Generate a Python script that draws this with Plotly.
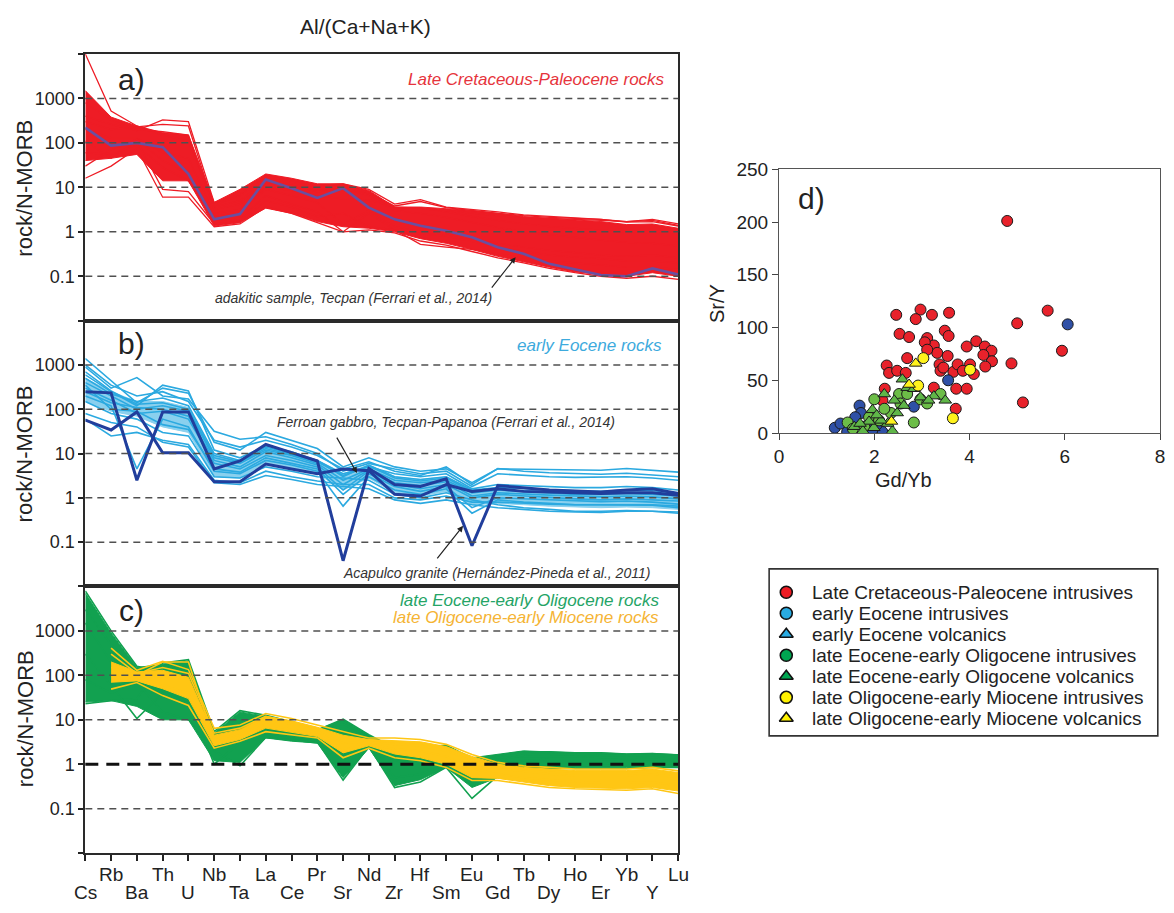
import plotly.graph_objects as go

W, H = 1174, 913

ELEMENTS = ["Cs", "Rb", "Ba", "Th", "U", "Nb", "Ta", "La", "Ce", "Pr", "Sr", "Nd",
            "Zr", "Hf", "Sm", "Eu", "Gd", "Tb", "Dy", "Ho", "Er", "Yb", "Y", "Lu"]

# ---- panel a: Late Cretaceous-Paleocene rocks (rock / N-MORB) ----
a_band_hi = [1500, 380, 240, 170, 150, 4.6, 9.0, 20, 16, 12, 12, 8.5, 3.6, 3.6, 3.3, 3.0, 2.6, 2.2, 2.0, 1.85, 1.7, 1.45, 1.5, 1.2]
a_band_lo = [40, 45, 55, 14, 14, 1.35, 1.6, 3.4, 2.6, 1.7, 1.3, 1.2, 1.0, 0.7, 0.55, 0.4, 0.28, 0.21, 0.16, 0.125, 0.11, 0.1, 0.12, 0.1]
a_samples = [
    [10000, 520, 240, 150, 110, 4.0, 6.5, 16, 13, 10, 11, 7.5, 3.8, 4.8, 3.5, 3.0, 2.6, 2.3, 2.1, 2.0, 1.9, 1.7, 1.8, 1.4],
    [400, 260, 190, 330, 300, 4.5, 7.0, 19, 15, 11, 12, 9, 4.2, 5.3, 3.6, 3.2, 2.8, 2.4, 2.2, 2.0, 1.9, 1.65, 1.7, 1.35],
    [300, 200, 230, 260, 240, 3.6, 5.0, 14, 11, 8, 9, 7, 3.5, 3.4, 2.8, 2.2, 1.8, 1.5, 1.3, 1.2, 1.1, 1.0, 1.05, 0.95],
    [16, 30, 75, 6, 6, 1.3, 1.5, 3.6, 2.6, 1.6, 1.0, 1.1, 0.95, 0.62, 0.5, 0.36, 0.26, 0.2, 0.15, 0.12, 0.1, 0.09, 0.1, 0.085],
    [60, 55, 90, 28, 14, 1.8, 2.0, 6.5, 4.2, 2.8, 1.0, 2.6, 1.1, 0.9, 0.8, 0.6, 0.45, 0.36, 0.3, 0.27, 0.25, 0.22, 0.22, 0.2],
    [110, 45, 110, 9, 8, 1.5, 1.7, 5.0, 3.6, 2.2, 2.6, 1.3, 1.1, 0.52, 0.45, 0.4, 0.32, 0.26, 0.22, 0.2, 0.18, 0.16, 0.16, 0.14],
    [200, 130, 130, 60, 45, 2.6, 3.2, 10, 8.5, 6.5, 5.5, 5.2, 3.6, 3.4, 3.0, 2.6, 2.3, 2.1, 2.0, 1.95, 1.8, 1.7, 1.9, 1.5],
    [800, 320, 200, 180, 150, 3.2, 4.2, 13, 11, 8.5, 9.5, 6.5, 3.0, 2.6, 2.1, 1.6, 1.25, 1.0, 0.85, 0.75, 0.65, 0.58, 0.55, 0.48],
    [30, 70, 120, 40, 20, 2.2, 2.8, 9, 6.5, 4.5, 1.5, 3.0, 1.3, 1.0, 0.9, 0.7, 0.55, 0.45, 0.38, 0.34, 0.3, 0.28, 0.3, 0.26],
]
a_adakite = [220, 87, 100, 80, 20, 1.9, 2.5, 15, 9.5, 5.8, 9.6, 3.5, 1.9, 1.36, 1.05, 0.75, 0.45, 0.32, 0.19, 0.14, 0.107, 0.1, 0.15, 0.11]

# ---- panel b: early Eocene rocks ----
b_band_hi = [500, 250, 150, 150, 110, 9, 7, 13, 10, 7, 3.5, 5.5, 3.0, 2.6, 3.0, 1.5, 1.5, 1.45, 1.4, 1.35, 1.35, 1.4, 1.35, 1.25]
b_band_lo = [150, 90, 70, 40, 30, 3, 2.8, 6, 4.5, 3.5, 1.5, 2.8, 1.3, 1.1, 1.4, 0.7, 0.75, 0.7, 0.65, 0.62, 0.6, 0.62, 0.6, 0.55]
b_samples = [
    [1400, 450, 140, 300, 230, 18, 12, 30, 20, 13, 5, 8, 5, 4, 4.5, 2.2, 4.5, 4.4, 4.3, 4.2, 4.2, 4.6, 4.2, 3.8],
    [900, 300, 520, 200, 170, 32, 21, 24, 16, 10, 4, 6, 4.5, 3.5, 4.0, 1.8, 3.5, 3.2, 3.0, 2.9, 2.9, 3.0, 2.8, 2.5],
    [600, 250, 120, 350, 260, 12, 8, 15, 11, 7, 3.5, 5, 3.5, 3.0, 3.5, 1.6, 2.0, 1.9, 1.8, 1.7, 1.7, 1.8, 1.7, 1.5],
    [400, 200, 100, 120, 90, 8, 6, 12, 9, 6, 2.5, 4.5, 2.5, 2.2, 2.5, 1.3, 1.5, 1.4, 1.3, 1.2, 1.2, 1.25, 1.2, 1.1],
    [300, 160, 80, 90, 60, 6, 4.5, 9, 7, 5, 1.5, 4, 2.0, 1.6, 2.0, 1.0, 1.2, 1.1, 1.0, 0.95, 0.9, 0.95, 0.9, 0.85],
    [200, 120, 4.5, 60, 40, 4, 3.5, 7, 5.5, 4, 0.65, 3, 1.5, 1.2, 1.6, 0.45, 0.9, 0.8, 0.75, 0.7, 0.7, 0.7, 0.68, 0.6],
    [150, 80, 60, 30, 25, 3, 2.8, 5, 4, 3, 2.8, 2.5, 1.2, 1.0, 1.3, 0.9, 0.7, 0.6, 0.55, 0.5, 0.5, 0.52, 0.5, 0.45],
    [80, 50, 40, 18, 14, 2.2, 2.0, 3.2, 2.6, 2.0, 1.8, 1.6, 0.9, 0.75, 0.9, 0.7, 0.6, 0.55, 0.5, 0.48, 0.47, 0.5, 0.5, 0.48],
    [60, 25, 30, 20, 16, 2.5, 2.2, 4, 3, 2.4, 2.0, 2.0, 1.0, 0.9, 1.1, 0.8, 0.8, 0.75, 0.72, 0.7, 0.7, 0.72, 0.7, 0.65],
    [1000, 350, 200, 250, 150, 20, 14, 20, 14, 9, 4.5, 6.5, 4, 3.2, 5, 2.0, 4.6, 4.0, 3.7, 3.5, 3.4, 3.6, 3.3, 3.0],
    [500, 220, 150, 180, 120, 10, 7, 14, 10, 7, 3.0, 5.5, 3.0, 2.6, 3.0, 1.5, 1.7, 1.6, 1.5, 1.45, 1.4, 1.5, 1.45, 1.3],
    [250, 140, 110, 100, 70, 7, 5, 11, 8, 5.5, 2.0, 4.2, 2.2, 1.9, 2.3, 1.1, 1.3, 1.2, 1.15, 1.1, 1.05, 1.1, 1.05, 0.95],
    [350, 100, 90, 45, 35, 4.5, 3.8, 8, 6, 4.5, 1.2, 3.5, 1.8, 1.4, 1.8, 0.6, 1.0, 0.95, 0.9, 0.85, 0.82, 0.85, 0.8, 0.72],
    [700, 260, 130, 140, 100, 9, 6.5, 13, 9.5, 6.5, 3.2, 5.2, 2.8, 2.4, 2.8, 1.4, 1.5, 1.45, 1.35, 1.3, 1.3, 1.35, 1.3, 1.2],
]
b_acapulco = [250, 235, 2.5, 87, 87, 4.5, 6.8, 16, 10.5, 6.8, 0.038, 4.6, 2.0, 1.8, 2.7, 0.083, 1.9, 1.7, 1.5, 1.43, 1.36, 1.5, 1.6, 1.25]
b_gabbro = [57, 34, 87, 10.4, 10.4, 2.3, 2.3, 5.8, 4.5, 3.5, 4.5, 4.1, 1.2, 1.1, 2.0, 1.4, 1.6, 1.4, 1.35, 1.3, 1.25, 1.3, 1.3, 1.15]

# ---- panel c: late Eocene-early Oligocene (green) and late Oligocene-early Miocene (yellow) ----
g_band_hi = [7000, 900, 150, 180, 210, 5.0, 15, 12, 9, 6, 10, 4.5, 2.3, 2.5, 2.7, 1.4, 1.7, 2.0, 1.9, 1.8, 1.8, 1.7, 1.75, 1.65]
g_band_lo = [25, 27, 20, 10, 10, 1.2, 1.1, 3.9, 3.3, 3.0, 0.5, 2.3, 0.33, 0.45, 0.85, 0.3, 0.5, 0.65, 0.8, 0.85, 0.85, 0.85, 0.85, 0.9]
g_samples = [
    [7900, 1000, 160, 120, 100, 4, 8, 10, 8, 5.5, 8, 4.2, 2.0, 2.4, 2.5, 1.3, 1.6, 1.9, 1.9, 1.8, 1.8, 1.7, 1.75, 1.6],
    [23, 27, 30, 190, 225, 5.4, 16, 12.7, 9, 5.9, 10.3, 4.6, 2.3, 2.0, 2.2, 1.2, 1.4, 1.5, 1.5, 1.45, 1.4, 1.4, 1.5, 1.4],
    [300, 60, 10.7, 40, 30, 1.0, 3, 5, 4, 3.2, 0.44, 2.5, 0.3, 0.4, 0.85, 0.17, 0.55, 0.7, 0.8, 0.8, 0.8, 0.8, 0.85, 0.85],
    [1500, 200, 100, 60, 50, 2, 0.92, 4, 3.5, 3.0, 1.5, 2.8, 0.5, 0.6, 1.0, 0.6, 0.8, 0.9, 0.95, 0.95, 0.95, 0.9, 0.95, 0.92],
    [80, 40, 70, 15, 10, 2.5, 5, 8, 6, 4, 5, 3.5, 1.2, 1.0, 1.8, 0.8, 1.0, 1.2, 1.3, 1.3, 1.3, 1.25, 1.3, 1.2],
    [3000, 500, 130, 100, 180, 3.5, 12, 11, 8, 5, 9, 4, 1.8, 1.6, 2.4, 1.0, 1.2, 1.6, 1.7, 1.65, 1.6, 1.55, 1.6, 1.5],
]
y_band_hi = [None, 200, 120, 130, 90, 4.5, 6, 12, 9.5, 6.8, 4.5, 3.6, 3.4, 3.2, 2.5, 1.5, 1.0, 0.85, 0.78, 0.72, 0.72, 0.72, 0.78, 0.65]
y_band_lo = [None, 70, 75, 50, 30, 2.6, 3.6, 6.5, 5.2, 4.2, 1.8, 2.6, 1.7, 1.4, 1.0, 0.5, 0.48, 0.4, 0.33, 0.3, 0.29, 0.28, 0.3, 0.25]
y_samples = [
    [None, 410, 130, 207, 135, 6.4, 7.6, 13.8, 10.7, 7.6, 5.4, 3.9, 3.9, 3.6, 2.8, 1.66, 1.1, 0.92, 0.85, 0.78, 0.78, 0.78, 0.85, 0.71],
    [None, 49, 69, 35, 21, 2.3, 3.3, 5.4, 4.6, 3.9, 1.4, 2.3, 1.4, 1.2, 0.85, 0.43, 0.43, 0.36, 0.3, 0.28, 0.27, 0.26, 0.28, 0.22],
    [None, 150, 100, 200, 200, 3.5, 5, 10, 8, 5.5, 3, 3.2, 2.8, 2.6, 2.0, 1.2, 0.8, 0.7, 0.6, 0.55, 0.55, 0.55, 0.6, 0.5],
    [None, 100, 90, 60, 40, 3, 4.2, 8, 6, 4.8, 2.2, 2.8, 2.2, 2.0, 1.5, 0.8, 0.6, 0.5, 0.45, 0.4, 0.38, 0.38, 0.4, 0.33],
    [None, 300, 110, 150, 110, 5, 6.5, 12, 9, 6.5, 4, 3.5, 3.2, 3.0, 2.3, 1.3, 0.95, 0.8, 0.72, 0.65, 0.65, 0.65, 0.72, 0.6],
]

# ---- panel d: Sr/Y vs Gd/Yb ----
lkp_gdyb = [4.79, 5.64, 5.0, 5.94, 4.88, 5.12, 2.46, 2.97, 2.87, 3.21, 3.57, 2.53, 2.73, 3.48, 3.56, 3.11,
            3.25, 3.06, 3.94, 4.14, 4.32, 4.46, 4.29, 4.47, 4.33, 4.09, 4.01, 3.32, 3.37, 3.54, 3.39, 3.66,
            3.75, 3.86, 2.26, 2.31, 2.48, 2.69, 2.66, 3.72, 3.94, 3.71, 3.25, 2.22, 3.11, 2.17, 3.45]
lkp_sry = [201, 116, 104, 78, 66, 29, 112, 117, 108, 112, 114, 94, 91, 97, 92, 90,
           83, 86, 82, 87, 82, 78, 74, 68, 63, 56, 65, 76, 65, 73, 59, 58,
           65, 59, 64, 57, 59, 71, 57, 42, 42, 23, 43, 42, 79, 31, 62]
ee_gdyb = [6.06, 3.55, 1.17, 1.29, 1.69, 1.72, 1.43, 2.17, 2.83, 1.96, 1.6, 2.05]
ee_sry = [103, 50, 5, 9, 26, 19, 1, 1, 25, 3, 15, 8]
leo_int_gdyb = [1.44, 2.0, 2.35, 2.52, 2.83, 2.97, 2.69, 2.21, 1.79, 2.55, 3.11, 1.89, 3.39, 1.55, 2.1]
leo_int_sry = [10, 32, 19, 37, 10, 32, 37, 23, 6, 28, 28, 15, 37, 4, 12]
leo_vol_gdyb = [2.59, 2.21, 2.42, 1.96, 1.58, 1.76, 1.99, 2.38, 2.97, 3.25, 3.49, 2.69, 2.28, 2.83,
                2.48, 2.14, 1.89, 3.14, 2.62, 1.7, 2.05]
leo_vol_sry = [51, 37, 31, 22, 6, 2, 5, 2, 34, 35, 31, 43, 9, 42, 19, 12, 11, 31, 26, 9, 17]
lom_int_gdyb = [3.03, 4.01, 2.92, 3.65]
lom_int_sry = [71, 60, 45, 14]
lom_vol_gdyb = [2.87, 2.36, 2.73]
lom_vol_sry = [66, 11, 46]

LEGEND_LABELS = ["Late Cretaceous-Paleocene intrusives", "early Eocene intrusives",
                 "early Eocene volcanics", "late Eocene-early Oligocene intrusives",
                 "late Eocene-early Oligocene volcanics", "late Oligocene-early Miocene intrusives",
                 "late Oligocene-early Miocene volcanics"]
LEGEND_SYMBOLS = ["circle", "circle", "triangle-up", "circle", "triangle-up", "circle", "triangle-up"]
LEGEND_COLORS = ["#ED1C24", "#29ABE2", "#29ABE2", "#00A651", "#00A651", "#FFF200", "#FFF200"]

RED = "#EE1C25"
LBLUE = "#2BA9E0"
DBLUE = "#213E9C"
PURPLE = "#6A4FA0"
GREEN = "#12A150"
YELLOW = "#FFC614"
FONT = "Liberation Sans, Arial, sans-serif"


def px(x):
    return x / W


def py(y):
    return 1 - y / H


fig = go.Figure()


def add_band(hi, lo, color, xa, ya, opacity=1.0):
    idx = [i for i, v in enumerate(hi) if v is not None]
    xs = [ELEMENTS[i] for i in idx]
    ys_hi = [hi[i] for i in idx]
    ys_lo = [lo[i] for i in idx]
    fig.add_trace(go.Scatter(x=xs + xs[::-1], y=ys_hi + ys_lo[::-1], mode="lines",
                             fill="toself", fillcolor=color, opacity=opacity,
                             line=dict(color=color, width=1), xaxis=xa, yaxis=ya,
                             hoverinfo="skip", showlegend=False))


def add_line(vals, color, width, xa, ya):
    fig.add_trace(go.Scatter(x=ELEMENTS, y=vals, mode="lines", line=dict(color=color, width=width),
                             xaxis=xa, yaxis=ya, showlegend=False, connectgaps=False))


# panel a
add_band(a_band_hi, a_band_lo, RED, "x", "y")
for s in a_samples:
    add_line(s, RED, 1.3, "x", "y")
add_line(a_adakite, PURPLE, 2.6, "x", "y")

# panel b
add_band(b_band_hi, b_band_lo, LBLUE, "x2", "y2", opacity=0.55)
for s in b_samples:
    add_line(s, LBLUE, 1.6, "x2", "y2")
add_line(b_gabbro, DBLUE, 3.0, "x2", "y2")
add_line(b_acapulco, DBLUE, 3.0, "x2", "y2")

# panel c
add_band(g_band_hi, g_band_lo, GREEN, "x3", "y3")
for s in g_samples:
    add_line(s, GREEN, 1.6, "x3", "y3")
add_band(y_band_hi, y_band_lo, YELLOW, "x3", "y3")
for s in y_samples:
    add_line(s, YELLOW, 1.6, "x3", "y3")

# panel d
def add_points(xs, ys, color, symbol, size=11):
    fig.add_trace(go.Scatter(x=xs, y=ys, mode="markers", xaxis="x4", yaxis="y4", showlegend=False,
                             marker=dict(color=color, symbol=symbol, size=size,
                                         line=dict(color="#1a1a1a", width=1))))


add_points(lkp_gdyb, lkp_sry, "#E8222B", "circle")
add_points(ee_gdyb, ee_sry, "#2F50A6", "circle")
add_points(leo_int_gdyb, leo_int_sry, "#6CBD47", "circle")
add_points(leo_vol_gdyb, leo_vol_sry, "#5FB648", "triangle-up", 11)
add_points(lom_int_gdyb, lom_int_sry, "#FFF21C", "circle")
add_points(lom_vol_gdyb, lom_vol_sry, "#FFF21C", "triangle-up", 11)

# legend markers (own hidden axes, one row per entry)
LEG_BOX = (770.7, 572.0, 1162.7, 743.0)   # left, top, right, bottom in px
ROW0, ROW_STEP = 596.0, 21.5
leg_rows = list(range(len(LEGEND_LABELS)))
fig.add_trace(go.Scatter(x=[(788 - LEG_BOX[0]) / (LEG_BOX[2] - LEG_BOX[0])] * len(leg_rows), y=leg_rows,
                         mode="markers", xaxis="x5", yaxis="y5", showlegend=False,
                         marker=dict(symbol=LEGEND_SYMBOLS, color=LEGEND_COLORS, size=12,
                                     line=dict(color="#111", width=1.6))))

# ---- layout ----
XD = [px(81), px(679)]
panels = [("", (45, 318)), ("2", (318, 590)), ("3", (590, 863))]
axis_common = dict(showline=True, mirror=True, linecolor="#2a2a2a", linewidth=2, zeroline=False,
                   showgrid=False)
layout_axes = {}
for suf, (top, bot) in panels:
    layout_axes["xaxis" + suf] = dict(domain=XD, anchor="y" + suf, type="category",
                                      categoryorder="array", categoryarray=ELEMENTS, range=[0, 23],
                                      showticklabels=False,
                                      ticks="outside" if suf == "3" else "", ticklen=6, tickwidth=2,
                                      tickcolor="#222", tickvals=ELEMENTS if suf == "3" else None,
                                      **axis_common)
    layout_axes["yaxis" + suf] = dict(domain=[py(bot), py(top)], anchor="x" + suf, type="log",
                                      range=[-2, 4],
                                      tickvals=[0.01, 0.1, 1, 10, 100, 1000, 10000],
                                      ticktext=["", "0.1", "1", "10", "100", "1000", ""],
                                      ticks="outside", ticklen=5, tickwidth=1.5, tickcolor="#222",
                                      tickfont=dict(size=18, color="#222", family=FONT), **axis_common)

layout_axes["xaxis4"] = dict(domain=[px(780.7), px(1165)], anchor="y4", range=[0, 8],
                             tickvals=[0, 2, 4, 6, 8], ticks="outside", ticklen=6, tickcolor="#444",
                             showline=True, mirror=True, linecolor="#555", linewidth=1.3,
                             showgrid=False, zeroline=False,
                             tickfont=dict(size=19, color="#222", family=FONT))
layout_axes["yaxis4"] = dict(domain=[py(433), py(163)], anchor="x4", range=[0, 250],
                             tickvals=[0, 50, 100, 150, 200, 250], ticks="outside", ticklen=6,
                             tickcolor="#444", showline=True, mirror=True, linecolor="#555",
                             linewidth=1.3, showgrid=False, zeroline=False,
                             tickfont=dict(size=19, color="#222", family=FONT))
layout_axes["xaxis5"] = dict(domain=[px(LEG_BOX[0]), px(LEG_BOX[2])], anchor="y5", range=[0, 1],
                             visible=False)
layout_axes["yaxis5"] = dict(domain=[py(LEG_BOX[3]), py(LEG_BOX[1])], anchor="x5",
                             range=[(LEG_BOX[3] - ROW0) / ROW_STEP, (LEG_BOX[1] - ROW0) / ROW_STEP],
                             visible=False)

# dashed reference lines on the spider diagrams
shapes = []
for suf, _ in panels:
    for v in [0.1, 1, 10, 100, 1000]:
        strong = (suf == "3" and v == 1)
        shapes.append(dict(type="line", xref="x%s domain" % suf, yref="y" + suf, x0=0, x1=1, y0=v, y1=v,
                           layer="above",
                           line=dict(color="#111" if strong else "#505050", width=2.8 if strong else 1.5,
                                     dash="13px,8px" if strong else "7px,5px")))
shapes.append(dict(type="rect", xref="paper", yref="paper", x0=px(LEG_BOX[0]), x1=px(LEG_BOX[2]),
                   y0=py(LEG_BOX[3]), y1=py(LEG_BOX[1]), line=dict(color="#333", width=1.6),
                   fillcolor="rgba(0,0,0,0)"))

ann = []


def text(x, y, s, size, color="#222", italic=False, xanchor="center", angle=0, **kw):
    ann.append(dict(x=x, y=y, xref=kw.pop("xref", "paper"), yref=kw.pop("yref", "paper"), text=s,
                    showarrow=False, xanchor=xanchor, yanchor="middle", textangle=angle,
                    font=dict(size=size, color=color, family=FONT,
                              style="italic" if italic else "normal"), **kw))


def arrow(head, tail):
    ann.append(dict(x=px(head[0]), y=py(head[1]), xref="paper", yref="paper", text="", showarrow=True,
                    ax=tail[0] - head[0], ay=tail[1] - head[1], arrowhead=2, arrowsize=1,
                    arrowwidth=1.2, arrowcolor="#222"))


text(px(364), py(17), "Al/(Ca+Na+K)", 21)
for lab, yc in [("a)", 71), ("b)", 341), ("c)", 615)]:
    text(px(128), py(yc), lab, 30)
for yc in [182, 454, 725]:
    text(px(20), py(yc), "rock/N-MORB", 22, angle=-90)

text(px(668), py(71), "Late Cretaceous-Paleocene rocks", 17, "#E6343C", True, "right")
text(px(210), py(295), "adakitic sample, Tecpan (Ferrari et al., 2014)", 14, "#333", True, "left")
arrow((515, 253), (490, 285))

text(px(665), py(343), "early Eocene rocks", 17, "#3DAADD", True, "right")
text(px(272), py(422), "Ferroan gabbro, Tecpan-Papanoa (Ferrari et al., 2014)", 14, "#333", True, "left")
arrow((355, 474), (334, 437))
text(px(653), py(576), "Acapulco granite (Hernández-Pineda et al., 2011)", 14, "#333", True, "right")
arrow((462, 528), (435, 562))

text(px(662), py(604), "late Eocene-early Oligocene rocks", 17, "#25A466", True, "right")
text(px(662), py(622), "late Oligocene-early Miocene rocks", 17, "#F5B434", True, "right")

for i, el in enumerate(ELEMENTS):
    text(el, py(885 if i % 2 else 903), el, 19, xref="x3")

text(px(813), py(193), "d)", 30)
text(px(718), py(300), "Sr/Y", 20, angle=-90)
text(px(906), py(481), "Gd/Yb", 20)

for k, lab in enumerate(LEGEND_LABELS):
    text((812 - LEG_BOX[0]) / (LEG_BOX[2] - LEG_BOX[0]), k, lab, 19, xref="x5", yref="y5",
         xanchor="left")

fig.update_layout(width=W, height=H, margin=dict(l=0, r=0, t=0, b=0), paper_bgcolor="white",
                  plot_bgcolor="white", showlegend=False, shapes=shapes, annotations=ann,
                  font=dict(family=FONT), **layout_axes)

fig.write_html("out.html")
